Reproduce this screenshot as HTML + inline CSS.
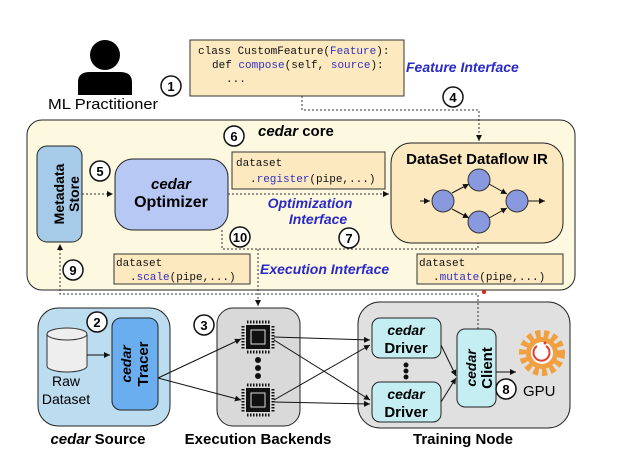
<!DOCTYPE html>
<html><head><meta charset="utf-8"><style>
html,body{margin:0;padding:0;background:#fff}
svg{display:block}
text{font-family:"Liberation Sans",sans-serif}
.m{font-family:"Liberation Mono",monospace;font-size:11px;fill:#111}
.b{font-weight:bold}
.bl{fill:#2a2ac8;font-weight:bold;font-style:italic;font-size:14px}
.c{fill:#fff;stroke:#111;stroke-width:1.5}
.n{font-weight:bold;font-size:13px;text-anchor:middle}
.d{fill:none;stroke:#333;stroke-width:1;stroke-dasharray:2,2}
.a{stroke:#111;stroke-width:1;fill:none}
.kw{fill:#3030c0}
</style></head><body>
<svg width="626" height="467" viewBox="0 0 626 467">
<defs><marker id="ar" markerWidth="7" markerHeight="7" refX="6" refY="3" orient="auto"><path d="M0,0 L6,3 L0,6z" fill="#111"/></marker></defs>
<!-- person -->
<circle cx="105" cy="55" r="15" fill="#000"/>
<path d="M78,95 L78,82 Q78,72 90,72 L120,72 Q132,72 132,82 L132,95z" fill="#000"/>
<text x="48" y="109" font-size="15" textLength="110" lengthAdjust="spacingAndGlyphs">ML Practitioner</text>
<circle class="c" cx="171" cy="86" r="10"/><text class="n" x="171" y="91">1</text>
<rect x="190" y="40" width="214" height="56" fill="#fde9c0" stroke="#333"/>
<text class="m" x="198" y="54">class CustomFeature(<tspan class="kw">Feature</tspan>):</text>
<text class="m" x="212" y="68">def <tspan class="kw">compose</tspan>(self, <tspan class="kw">source</tspan>):</text>
<text class="m" x="226" y="82">...</text>
<text class="bl" x="406" y="72">Feature Interface</text>
<circle class="c" cx="453" cy="97" r="10"/><text class="n" x="453" y="102">4</text>
<!-- core -->
<rect x="27" y="120" width="548" height="170" rx="15" fill="#fdf8e0" stroke="#222"/>
<path class="d" d="M302,96 V110 H479 V141" marker-end="url(#ar)"/>
<text x="258" y="136" font-size="15" class="b"><tspan font-style="italic">cedar</tspan> core</text>
<rect x="37" y="146" width="45" height="96" rx="10" fill="#a6cbe8" stroke="#222"/>
<text transform="translate(64,194) rotate(-90)" text-anchor="middle" font-size="14" class="b">Metadata</text>
<text transform="translate(79,194) rotate(-90)" text-anchor="middle" font-size="14" class="b">Store</text>
<circle class="c" cx="100" cy="171" r="10"/><text class="n" x="100" y="176">5</text>
<path class="d" d="M82,194 H113" marker-end="url(#ar)"/>
<rect x="115" y="159" width="113" height="71" rx="18" fill="#b8c8f5" stroke="#222"/>
<text x="171" y="189" text-anchor="middle" font-size="15" class="b" font-style="italic">cedar</text>
<text x="171" y="207" text-anchor="middle" font-size="16" class="b">Optimizer</text>
<circle class="c" cx="234" cy="136" r="10"/><text class="n" x="234" y="141">6</text>
<rect x="232" y="152" width="153" height="37" fill="#fde9c0" stroke="#333"/>
<text class="m" x="236" y="166">dataset</text>
<text class="m" x="250" y="182">.<tspan class="kw">register</tspan>(pipe,...)</text>
<path class="d" d="M228,194 H389" marker-end="url(#ar)"/>
<text class="bl" x="310" y="208" text-anchor="middle">Optimization</text>
<text class="bl" x="318" y="224" text-anchor="middle">Interface</text>
<rect x="391" y="143" width="172" height="100" rx="20" fill="#fde9c0" stroke="#222"/>
<text x="477" y="164" text-anchor="middle" font-size="15" class="b">DataSet Dataflow IR</text>
<g class="a">
<path d="M420,201 H430" marker-end="url(#ar)"/>
<path d="M452,193 L469,184" marker-end="url(#ar)"/>
<path d="M452,209 L469,218" marker-end="url(#ar)"/>
<path d="M489,184 L507,194" marker-end="url(#ar)"/>
<path d="M489,218 L507,208" marker-end="url(#ar)"/>
<path d="M528,201 H545" marker-end="url(#ar)"/>
</g>
<g fill="#8899e0" stroke="#333">
<circle cx="443" cy="201" r="11"/><circle cx="479" cy="180" r="11"/><circle cx="479" cy="222" r="11"/><circle cx="517" cy="201" r="11"/>
</g>
<circle class="c" cx="349" cy="238" r="10"/><text class="n" x="349" y="243">7</text>
<circle class="c" cx="240" cy="237" r="10"/><text class="n" x="240" y="242" font-size="12">10</text>
<path class="d" d="M222,230 V249 H478 V243"/>
<path class="d" d="M258,249 V306" marker-end="url(#ar)"/>
<circle class="c" cx="73" cy="270" r="10"/><text class="n" x="73" y="275">9</text>
<path class="d" d="M478,329 V294 H60 V244" marker-end="url(#ar)"/>
<circle cx="484" cy="292" r="2" fill="#e02020"/>
<rect x="114" y="254" width="136" height="30" fill="#fde9c0" stroke="#333"/>
<text class="m" x="116" y="266">dataset</text>
<text class="m" x="130" y="280">.<tspan class="kw">scale</tspan>(pipe,...)</text>
<text class="bl" x="260" y="274">Execution Interface</text>
<rect x="417" y="254" width="146" height="30" fill="#fde9c0" stroke="#333"/>
<text class="m" x="419" y="266">dataset</text>
<text class="m" x="433" y="280">.<tspan class="kw">mutate</tspan>(pipe,...)</text>
<!-- source -->
<rect x="38" y="308" width="132" height="118" rx="20" fill="#bcdcef" stroke="#222"/>
<path d="M47,334 V366 A20,6 0 0 0 87,366 V334" fill="#eee" stroke="#333"/>
<ellipse cx="67" cy="334" rx="20" ry="6" fill="#eee" stroke="#333"/>
<text x="66" y="386" text-anchor="middle" font-size="14">Raw</text>
<text x="66" y="404" text-anchor="middle" font-size="14">Dataset</text>
<rect x="112" y="318" width="46" height="92" rx="9" fill="#6aaef0" stroke="#222"/>
<text transform="translate(131,364) rotate(-90)" text-anchor="middle" font-size="14" class="b" font-style="italic">cedar</text>
<text transform="translate(148,364) rotate(-90)" text-anchor="middle" font-size="15" class="b">Tracer</text>
<circle class="c" cx="97" cy="322" r="10"/><text class="n" x="97" y="327">2</text>
<path class="a" d="M87,355 H110" marker-end="url(#ar)"/>
<!-- backends -->
<rect x="217" y="308" width="83" height="118" rx="16" fill="#d9d9d9" stroke="#222"/>
<circle class="c" cx="204" cy="325" r="10"/><text class="n" x="204" y="330">3</text>
<!-- training -->
<rect x="358" y="302" width="212" height="126" rx="22" fill="#e0e0e0" stroke="#222"/>
<path class="d" d="M478,329 V302"/>
<g>
<rect x="246" y="325" width="24" height="24" fill="#111"/><rect x="251" y="330" width="14" height="14" fill="#111" stroke="#ddd" stroke-width="1"/>
<rect x="246" y="388" width="24" height="24" fill="#111"/><rect x="251" y="393" width="14" height="14" fill="#111" stroke="#ddd" stroke-width="1"/>
<g stroke="#111" stroke-dasharray="1.5,1.5" stroke-width="3"><path d="M247,322 H270 M247,352 H270 M243,326 V349 M273,326 V349 M247,385 H270 M247,415 H270 M243,389 V412 M273,389 V412"/></g>
<circle cx="258" cy="360" r="3" fill="#111"/><circle cx="258" cy="368" r="3" fill="#111"/><circle cx="258" cy="376" r="3" fill="#111"/>
</g>
<g class="a">
<path d="M158,378 L241,339" marker-end="url(#ar)"/>
<path d="M158,378 L241,400" marker-end="url(#ar)"/>
<path d="M274,337 L370,340" marker-end="url(#ar)"/>
<path d="M274,340 L370,400" marker-end="url(#ar)"/>
<path d="M274,400 L370,345" marker-end="url(#ar)"/>
<path d="M274,402 L370,404" marker-end="url(#ar)"/>
<path d="M441,345 L456,376" marker-end="url(#ar)"/>
<path d="M441,402 L456,378" marker-end="url(#ar)"/>
<path d="M496,372 L516,372" marker-end="url(#ar)"/>
</g>
<rect x="372" y="318" width="69" height="40" rx="8" fill="#c4eef2" stroke="#222"/>
<text x="406" y="335" text-anchor="middle" font-size="14" class="b" font-style="italic">cedar</text>
<text x="406" y="353" text-anchor="middle" font-size="15" class="b">Driver</text>
<circle cx="406" cy="365" r="2.5" fill="#111"/><circle cx="406" cy="371" r="2.5" fill="#111"/><circle cx="406" cy="377" r="2.5" fill="#111"/>
<rect x="372" y="382" width="69" height="40" rx="8" fill="#c4eef2" stroke="#222"/>
<text x="406" y="399" text-anchor="middle" font-size="14" class="b" font-style="italic">cedar</text>
<text x="406" y="417" text-anchor="middle" font-size="15" class="b">Driver</text>
<rect x="457" y="329" width="39" height="78" rx="8" fill="#c4eef2" stroke="#222"/>
<text transform="translate(476,368) rotate(-90)" text-anchor="middle" font-size="14" class="b" font-style="italic">cedar</text>
<text transform="translate(492,368) rotate(-90)" text-anchor="middle" font-size="15" class="b">Client</text>
<circle cx="542" cy="353" r="19" fill="none" stroke="#f0a040" stroke-width="8" stroke-dasharray="5,3.3"/>
<circle cx="542" cy="353" r="16" fill="#f0a040"/>
<circle cx="542" cy="353" r="11" fill="#fff"/>
<path d="M537,346 A8,8 0 1 0 546,346" fill="none" stroke="#e04030" stroke-width="2"/>
<circle cx="545" cy="343" r="1.5" fill="#e04030"/>
<circle class="c" cx="506" cy="389" r="10"/><text class="n" x="506" y="394">8</text>
<text x="523" y="396" font-size="15">GPU</text>
<text x="98" y="444" text-anchor="middle" font-size="15" class="b"><tspan font-style="italic">cedar</tspan> Source</text>
<text x="258" y="444" text-anchor="middle" font-size="15" class="b">Execution Backends</text>
<text x="463" y="444" text-anchor="middle" font-size="15" class="b">Training Node</text>
</svg>
</body></html>
